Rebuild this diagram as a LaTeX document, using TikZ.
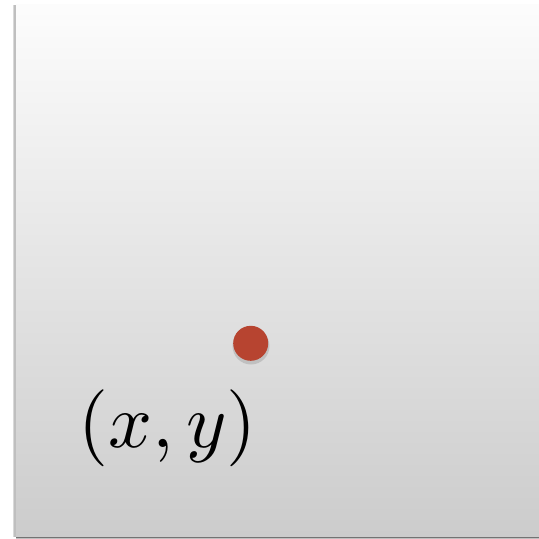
\documentclass[tikz,border=0pt]{standalone}
\usepackage{graphicx}
\begin{document}
\begin{tikzpicture}[x=1pt,y=-1pt,
  panel/.style={top color=white!99!black, bottom color=white!80!black, draw=none},
  pt/.style={circle, minimum size=35pt, inner sep=0pt, draw=none},
  lbl/.style={inner sep=0pt}]
\useasboundingbox (0,0) rectangle (539,539);
\fill[white] (0,0) rectangle (539,539);
% shadows
\fill[black!25] (13.5,5) rectangle (16,537);
\fill[black!15] (12.5,5) rectangle (13.5,537);
\fill[black!55] (16,536) rectangle (539,538);
\fill[black!25] (16,538) rectangle (539,539);
\shade[panel] (16,4) rectangle (539,536);
\node[pt, fill=black!35, opacity=0.5, minimum size=37pt] (shd) at (251,346) {};
\node[pt, fill={rgb,255:red,183;green,68;blue,48}] (dot) at (250.7,343.3) {};
\node[lbl, anchor=base west] (xy) at (78,447) {\scalebox{7.7}{$(x,y)$}};
\end{tikzpicture}
\end{document}
